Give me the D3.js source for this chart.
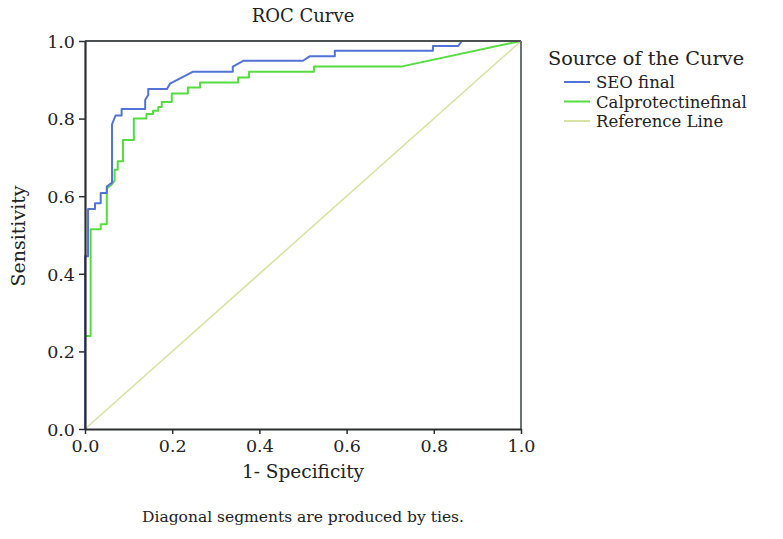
<!DOCTYPE html>
<html>
<head>
<meta charset="utf-8">
<script src="https://cdn.jsdelivr.net/npm/d3@7"></script>
<style>
  html, body { margin: 0; padding: 0; background: #fff; }
  svg text { font-family: "DejaVu Serif", serif; fill: #222; }
</style>
</head>
<body>
<svg id="chart" width="783" height="539"></svg>
<script>
// ---- data ----
const seoFpr = [0, 0, 0.007, 0.007, 0.023, 0.023, 0.036, 0.036, 0.05, 0.05, 0.062, 0.062, 0.07, 0.084, 0.084, 0.138, 0.138, 0.145, 0.145, 0.188, 0.195, 0.248, 0.339, 0.339, 0.363, 0.5, 0.516, 0.573, 0.573, 0.798, 0.798, 0.856, 0.864, 1];
const seoTpr = [0, 0.445, 0.445, 0.567, 0.567, 0.582, 0.582, 0.608, 0.608, 0.625, 0.635, 0.785, 0.808, 0.808, 0.825, 0.825, 0.848, 0.861, 0.876, 0.876, 0.89, 0.921, 0.921, 0.934, 0.949, 0.949, 0.961, 0.961, 0.975, 0.975, 0.987, 0.987, 1, 1];
const calFpr = [0, 0, 0.013, 0.013, 0.036, 0.036, 0.05, 0.05, 0.061, 0.068, 0.068, 0.075, 0.075, 0.087, 0.087, 0.112, 0.112, 0.141, 0.141, 0.156, 0.156, 0.168, 0.168, 0.176, 0.176, 0.199, 0.199, 0.236, 0.236, 0.264, 0.264, 0.351, 0.351, 0.376, 0.376, 0.525, 0.525, 0.725, 1];
const calTpr = [0, 0.24, 0.24, 0.515, 0.515, 0.528, 0.528, 0.62, 0.63, 0.64, 0.668, 0.668, 0.69, 0.69, 0.745, 0.745, 0.8, 0.8, 0.812, 0.812, 0.82, 0.82, 0.83, 0.83, 0.843, 0.843, 0.865, 0.865, 0.88, 0.88, 0.893, 0.893, 0.906, 0.906, 0.921, 0.921, 0.934, 0.934, 1];
const refFpr = [0, 1];
const refTpr = [0, 1];
const tickValues = [0, 0.2, 0.4, 0.6, 0.8, 1.0];
const seriesNames = ["SEO final", "Calprotectinefinal", "Reference Line"];
const seriesColors = ["#5372d6", "#55dd3f", "#d8e2a4"];

// ---- layout ----
const svg = d3.select("#chart");
const x = d3.scaleLinear().domain([0, 1]).range([85, 521]);
const y = d3.scaleLinear().domain([0, 1]).range([429, 41]);

const series = [
  { name: seriesNames[0], fpr: seoFpr, tpr: seoTpr, color: seriesColors[0] },
  { name: seriesNames[1], fpr: calFpr, tpr: calTpr, color: seriesColors[1] },
  { name: seriesNames[2], fpr: refFpr, tpr: refTpr, color: seriesColors[2] }
];

const line = d3.line().x(d => x(d[0])).y(d => y(d[1]));

[series[2], series[1], series[0]].forEach(s => {
  const pts = s.fpr.map((v, i) => [v, s.tpr[i]]);
  svg.append("path")
    .attr("d", line(pts))
    .attr("fill", "none")
    .attr("stroke", s.color)
    .attr("stroke-width", s === series[2] ? 1.6 : 2)
    .attr("stroke-linejoin", "round");
});

// frame top/right
svg.append("line").attr("x1", x(0)).attr("x2", x(1)).attr("y1", y(1)).attr("y2", y(1))
  .attr("stroke", "#4a5050").attr("stroke-width", 2);
svg.append("line").attr("x1", x(1)).attr("x2", x(1)).attr("y1", y(1)).attr("y2", y(0))
  .attr("stroke", "#6a7272").attr("stroke-width", 2);

// axes
const xAxis = d3.axisBottom(x).tickValues(tickValues).tickFormat(d3.format(".1f")).tickSize(5).tickSizeOuter(0);
const yAxis = d3.axisLeft(y).tickValues(tickValues).tickFormat(d3.format(".1f")).tickSize(6).tickSizeOuter(0);

const gx = svg.append("g").attr("transform", `translate(0,${y(0)})`).call(xAxis);
const gy = svg.append("g").attr("transform", `translate(${x(0)},0)`).call(yAxis);
[gx, gy].forEach(g => {
  g.select(".domain").attr("stroke", "#2a2f2f").attr("stroke-width", 2.2);
  g.selectAll(".tick line").attr("stroke", "#2a2f2f").attr("stroke-width", 1.5);
  g.selectAll(".tick text").attr("font-family", "DejaVu Serif").attr("font-size", 17.5).attr("fill", "#222");
});
gx.selectAll(".tick text").attr("dy", "0").attr("y", 23);
gy.selectAll(".tick text").attr("x", -10).attr("dy", "0.36em");

// titles
svg.append("text").attr("x", 303).attr("y", 22).attr("text-anchor", "middle")
  .attr("font-size", 18).text("ROC Curve");
svg.append("text").attr("x", 303).attr("y", 478).attr("text-anchor", "middle")
  .attr("font-size", 18.5).text("1- Specificity");
svg.append("text").attr("transform", "translate(25,236) rotate(-90)").attr("text-anchor", "middle")
  .attr("font-size", 19).text("Sensitivity");
svg.append("text").attr("x", 303).attr("y", 522).attr("text-anchor", "middle")
  .attr("font-size", 15.5).text("Diagonal segments are produced by ties.");

// legend
const lg = svg.append("g");
lg.append("text").attr("x", 548).attr("y", 65).attr("font-size", 19.3).text("Source of the Curve");
series.forEach((s, i) => {
  const yy = 82 + i * 19.5;
  lg.append("line").attr("x1", 564).attr("x2", 590).attr("y1", yy).attr("y2", yy)
    .attr("stroke", s.color).attr("stroke-width", 2);
  lg.append("text").attr("x", 596).attr("y", yy + 6).attr("font-size", 16.5).text(s.name);
});
</script>
</body>
</html>
